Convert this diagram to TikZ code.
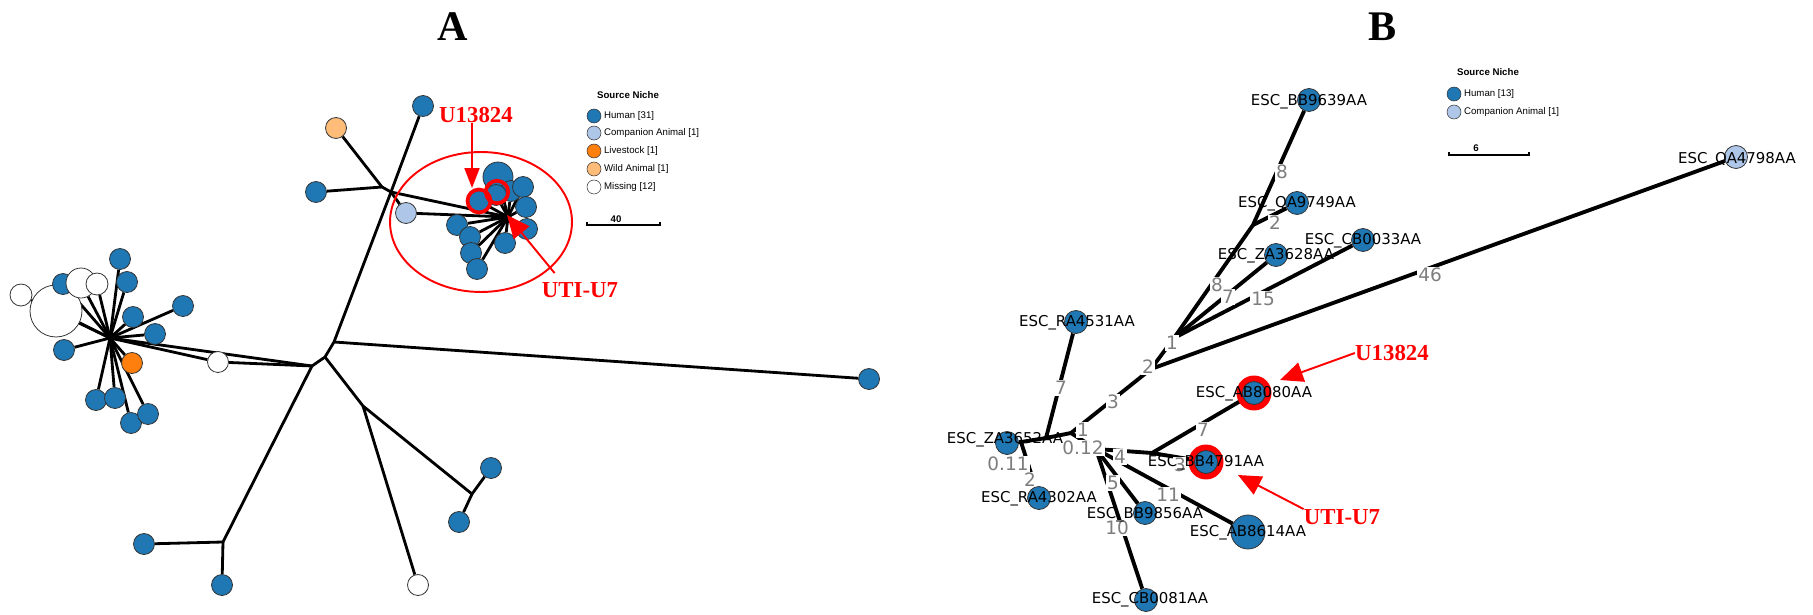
\documentclass[tikz,border=0pt]{standalone}
\usepackage{fontspec}
\setmainfont{Liberation Serif}
\newfontfamily\legfont{Liberation Sans}
\newfontfamily\isofont{DejaVu Sans}
\usepackage{tikz}
\usetikzlibrary{arrows.meta, positioning, shapes.geometric}
\definecolor{humanBlue}{RGB}{31, 119, 180}
\definecolor{compBlue}{RGB}{174, 199, 232}
\definecolor{stockOrange}{RGB}{255, 127, 14}
\definecolor{wildOrange}{RGB}{255, 187, 120}
\definecolor{edgeGray}{RGB}{125, 125, 125}
\pgfdeclarelayer{edges}
\pgfdeclarelayer{elabels}
\pgfsetlayers{edges,elabels,main}

\begin{document}
\begin{tikzpicture}[
    x=0.02cm, y=-0.02cm,
    nd/.style={circle, draw=black!80, line width=0.45pt, inner sep=0pt, minimum size=0.42cm},
    human/.style={nd, fill=humanBlue},
    compan/.style={nd, fill=compBlue},
    stock/.style={nd, fill=stockOrange},
    wildan/.style={nd, fill=wildOrange},
    miss/.style={nd, fill=white},
    isonode/.style={human, minimum size=0.46cm},
    br/.style={line width=1.6pt},
    brB/.style={line width=2.2pt},
    ring/.style={circle, draw=red, line width=2.1pt, inner sep=0pt, minimum size=0.46cm},
    disc/.style={circle, fill=red, inner sep=0pt, minimum size=0.7cm},
    iso/.style={font=\isofont\fontsize{8.5}{10}\selectfont, inner sep=0pt},
    elab/.style={font=\isofont\fontsize{10.5}{12}\selectfont, text=edgeGray, fill=white, inner sep=0.6pt},
    tag/.style={font=\bfseries\fontsize{13}{15}\selectfont, text=red, inner sep=0pt},
    redarrow/.style={-{Triangle[length=0.46cm, width=0.4cm]}, red, line width=1.1pt},
    legtitle/.style={font=\legfont\bfseries\fontsize{5.5}{6.5}\selectfont, inner sep=0pt},
    legtxt/.style={font=\legfont\fontsize{5.5}{6.5}\selectfont, inner sep=0pt},
    legdot/.style={nd, minimum size=0.28cm, line width=0.3pt},
    scalebar/.style={line width=0.6pt},
    paneltitle/.style={font=\bfseries\fontsize{24}{28}\selectfont, inner sep=0pt},
  ]
  \useasboundingbox (0,0) rectangle (1813,615);

  % Panel titles
  \node[paneltitle] (titA) at (453,27) {A};
  \node[paneltitle] (titB) at (1383,27) {B};

  %% ---------------- Panel A ----------------
  % junctions
  \coordinate (ja0) at (382,187);
  \coordinate (ja1) at (391,192);
  \coordinate (tj1) at (334,342);
  \coordinate (tj2) at (325,357);
  \coordinate (tj3) at (312,366);
  \coordinate (dj1) at (363,406);
  \coordinate (dj2) at (472,494);
  \coordinate (bj) at (223,542);
  \coordinate (sh) at (110,338);
  \coordinate (ch) at (508,217);

  % highlighted cluster
  \node[draw=red, line width=1.1pt, ellipse, inner sep=0pt,
    minimum width=3.64cm, minimum height=2.8cm] (clus) at (481,222) {};

  % main tree
  \node[human] (aTop) at (423,106) {};
  \node[wildan] (aWild) at (336,128) {};
  \node[human] (aL1) at (316,192) {};
  \node[compan] (aComp) at (406,213) {};
  \node[human] (aFar) at (869,379) {};
  \node[human] (aD1) at (491,468) {};
  \node[human] (aD2) at (459,522) {};
  \node[miss] (aM1) at (418,585) {};
  \node[human] (aB1) at (144,544) {};
  \node[human] (aB2) at (222,585) {};
  \node[miss] (aM2) at (218,362) {};

  % star on the left
  \node[miss, minimum size=1.04cm] (s7) at (56,311) {};
  \node[miss, minimum size=0.44cm] (s6) at (21,295) {};
  \node[human] (s5) at (63,284) {};
  \node[miss, minimum size=0.6cm] (s3) at (81,283) {};
  \node[miss, minimum size=0.44cm] (s4) at (97,284) {};
  \node[human] (s1) at (120,259) {};
  \node[human] (s2) at (127,282) {};
  \node[human] (s8) at (183,306) {};
  \node[human] (s9) at (133,317) {};
  \node[human] (s10) at (155,334) {};
  \node[human] (s11) at (64,350) {};
  \node[stock] (s12) at (132,363) {};
  \node[human] (s13) at (96,400) {};
  \node[human] (s14) at (115,398) {};
  \node[human] (s15) at (131,423) {};
  \node[human] (s16) at (148,414) {};

  % cluster nodes
  \node[human, minimum size=0.6cm] (c1) at (498,177) {};
  \node[human] (c3) at (511,191) {};
  \node[human] (c2) at (523,187) {};
  \node[human] (c4) at (526,207) {};
  \node[human] (c5) at (527,229) {};
  \node[human] (c6) at (496,195) {};
  \node[human] (c7) at (479,201) {};
  \node[human] (c8) at (457,225) {};
  \node[human] (c9) at (470,237) {};
  \node[human] (c10) at (471,253) {};
  \node[human] (c11) at (477,269) {};
  \node[human] (c12) at (505,243) {};

  \begin{pgfonlayer}{edges}
    \draw[br] (aTop) -- (ja1) -- (tj1) -- (tj2) -- (tj3);
    \draw[br] (aWild) -- (ja0) -- (aL1);
    \draw[br] (ja0) -- (ja1) -- (ch);
    \draw[br] (ja1) -- (aComp) -- (ch);
    \draw[br] (tj1) -- (aFar);
    \draw[br] (tj2) -- (dj1) -- (dj2) -- (aD1);
    \draw[br] (dj2) -- (aD2);
    \draw[br] (dj1) -- (aM1);
    \draw[br] (tj3) -- (bj) -- (aB1);
    \draw[br] (bj) -- (aB2);
    \draw[br] (tj3) -- (aM2) -- (sh);
    \draw[br] (tj3) -- (sh);
    \foreach \s in {s1,s2,s3,s4,s5,s6,s7,s8,s9,s10,s11,s12,s13,s14,s15,s16}
      \draw[br] (sh) -- (\s);
    \foreach \c in {c1,c2,c3,c4,c5,c6,c7,c8,c9,c10,c11,c12}
      \draw[br] (ch) -- (\c);
  \end{pgfonlayer}

  % highlight rings
  \node[ring] (rA1) at (479,201) {};
  \node[ring, minimum size=0.45cm] (rA2) at (497,192) {};

  % red tags
  \node[tag] (tA1) at (476,115) {U13824};
  \coordinate (hA1) at (472,188);
  \draw[red, line width=1.1pt, -{Triangle[length=0.4cm, width=0.3cm]}] (tA1.south -| hA1) -- (hA1);
  \node[tag] (tA2) at (580,290) {UTI-U7};
  \coordinate (hA2) at (507,215);
  \draw[redarrow] ([xshift=0.26cm, yshift=0.18cm]tA2.north west) -- (hA2);

  % legend A
  \node[legtitle] (legA) at (628,95) {Source Niche};
  \node[legdot, fill=humanBlue] (kA1) at (594,116) {};
  \node[legtxt, right=0.05cm of kA1] (xA1) {Human [31]};
  \node[legdot, fill=compBlue] (kA2) at (594,133) {};
  \node[legtxt, right=0.05cm of kA2] (xA2) {Companion Animal [1]};
  \node[legdot, fill=stockOrange] (kA3) at (594,151) {};
  \node[legtxt, right=0.05cm of kA3] (xA3) {Livestock [1]};
  \node[legdot, fill=wildOrange] (kA4) at (594,169) {};
  \node[legtxt, right=0.05cm of kA4] (xA4) {Wild Animal [1]};
  \node[legdot, fill=white] (kA5) at (594,187) {};
  \node[legtxt, right=0.05cm of kA5] (xA5) {Missing [12]};

  % scale A
  \coordinate (sbA1) at (587,225);
  \coordinate (sbA2) at (660,225);
  \draw[scalebar] ([yshift=0.07cm]sbA1) -- (sbA1) -- (sbA2) -- ([yshift=0.07cm]sbA2);
  \node[legtitle] (sbAt) at (616,219) {40};

  %% ---------------- Panel B ----------------
  \coordinate (jB1) at (1253,225);
  \coordinate (jB2) at (1174,338);
  \coordinate (jB3) at (1151,369);
  \coordinate (jB4) at (1071,433);
  \coordinate (jL) at (1046,438);
  \coordinate (jZ) at (1021,442);
  \coordinate (jC) at (1096,449);
  \coordinate (jR) at (1152,453);

  % rings behind the two isolates
  \node[disc] (dB1) at (1254,393) {};
  \node[disc] (dB2) at (1206,462) {};

  % isolates
  \node[isonode] (BB9639) at (1309,100) {};
  \node[isonode] (QA9749) at (1297,203) {};
  \node[isonode] (CB0033) at (1363,240) {};
  \node[isonode] (ZA3628) at (1276,255) {};
  \node[isonode, fill=compBlue] (QA4798) at (1736,157) {};
  \node[isonode] (RA4531) at (1076,322) {};
  \node[isonode] (AB8080) at (1254,393) {};
  \node[isonode] (BB4791) at (1206,462) {};
  \node[isonode] (ZA3652) at (1007,443) {};
  \node[isonode] (RA4302) at (1039,498) {};
  \node[isonode] (BB9856) at (1145,513) {};
  \node[isonode, minimum size=0.68cm] (AB8614) at (1248,532) {};
  \node[isonode] (CB0081) at (1146,600) {};

  \begin{pgfonlayer}{edges}
    \draw[brB] (BB9639) -- (jB1) -- (jB2) -- (jB3) -- (jB4) -- (jC);
    \draw[brB] (QA9749) -- (jB1);
    \draw[brB] (ZA3628) -- (jB2);
    \draw[brB] (CB0033) -- (jB2);
    \draw[brB] (QA4798) -- (jB3);
    \draw[brB] (RA4531) -- (jL) -- (jB4);
    \draw[brB] (ZA3652) -- (jZ) -- (jL);
    \draw[brB] (jZ) -- (RA4302);
    \draw[brB] (jC) -- (jR) -- (BB4791);
    \draw[brB] (jR) -- (AB8080);
    \draw[brB] (jC) -- (AB8614);
    \draw[brB] (jC) -- (BB9856);
    \draw[brB] (jC) -- (CB0081);
  \end{pgfonlayer}

  % edge weights
  \begin{pgfonlayer}{elabels}
    \node[elab] (w1) at (1282,172) {8};
    \node[elab] (w2) at (1275,223) {2};
    \node[elab] (w3) at (1217,285) {8};
    \node[elab] (w4) at (1228,297) {7};
    \node[elab] (w5) at (1263,299) {15};
    \node[elab] (w6) at (1430,275) {46};
    \node[elab] (w7) at (1172,343) {1};
    \node[elab] (w8) at (1148,367) {2};
    \node[elab] (w9) at (1113,402) {3};
    \node[elab] (w10) at (1061,388) {7};
    \node[elab] (w11) at (1083,430) {1};
    \node[elab] (w12) at (1083,448) {0.12};
    \node[elab] (w13) at (1008,464) {0.11};
    \node[elab] (w14) at (1030,480) {2};
    \node[elab] (w15) at (1120,457) {4};
    \node[elab] (w16) at (1113,483) {5};
    \node[elab] (w17) at (1168,495) {11};
    \node[elab] (w18) at (1117,528) {10};
    \node[elab] (w19) at (1203,430) {7};
    \node[elab] (w20) at (1180,465) {3};
  \end{pgfonlayer}

  % isolate names
  \node[iso] (tBB9639) at (1309,102) {ESC\_BB9639AA};
  \node[iso] (tQA9749) at (1297,204) {ESC\_QA9749AA};
  \node[iso] (tCB0033) at (1363,241) {ESC\_CB0033AA};
  \node[iso] (tZA3628) at (1276,256) {ESC\_ZA3628AA};
  \node[iso] (tQA4798) at (1737,160) {ESC\_QA4798AA};
  \node[iso] (tRA4531) at (1077,323) {ESC\_RA4531AA};
  \node[iso] (tAB8080) at (1254,394) {ESC\_AB8080AA};
  \node[iso] (tBB4791) at (1206,463) {ESC\_BB4791AA};
  \node[iso] (tZA3652) at (1005,440) {ESC\_ZA3652AA};
  \node[iso] (tRA4302) at (1039,499) {ESC\_RA4302AA};
  \node[iso] (tBB9856) at (1145,515) {ESC\_BB9856AA};
  \node[iso] (tAB8614) at (1248,533) {ESC\_AB8614AA};
  \node[iso] (tCB0081) at (1150,600) {ESC\_CB0081AA};

  % red tags
  \node[tag] (tB1) at (1392,353) {U13824};
  \coordinate (hB1) at (1280,380);
  \draw[redarrow] (tB1.west) -- (hB1);
  \node[tag] (tB2) at (1342,517) {UTI-U7};
  \coordinate (hB2) at (1238,475);
  \draw[redarrow] (tB2.north west) -- (hB2);

  % legend B
  \node[legtitle] (legB) at (1488,72) {Source Niche};
  \node[legdot, fill=humanBlue] (kB1) at (1454,94) {};
  \node[legtxt, right=0.05cm of kB1] (xB1) {Human [13]};
  \node[legdot, fill=compBlue] (kB2) at (1454,112) {};
  \node[legtxt, right=0.05cm of kB2] (xB2) {Companion Animal [1]};

  % scale B
  \coordinate (sbB1) at (1449,155);
  \coordinate (sbB2) at (1529,155);
  \draw[scalebar] ([yshift=0.07cm]sbB1) -- (sbB1) -- (sbB2) -- ([yshift=0.07cm]sbB2);
  \node[legtitle] (sbBt) at (1476,148) {6};
\end{tikzpicture}
\end{document}
